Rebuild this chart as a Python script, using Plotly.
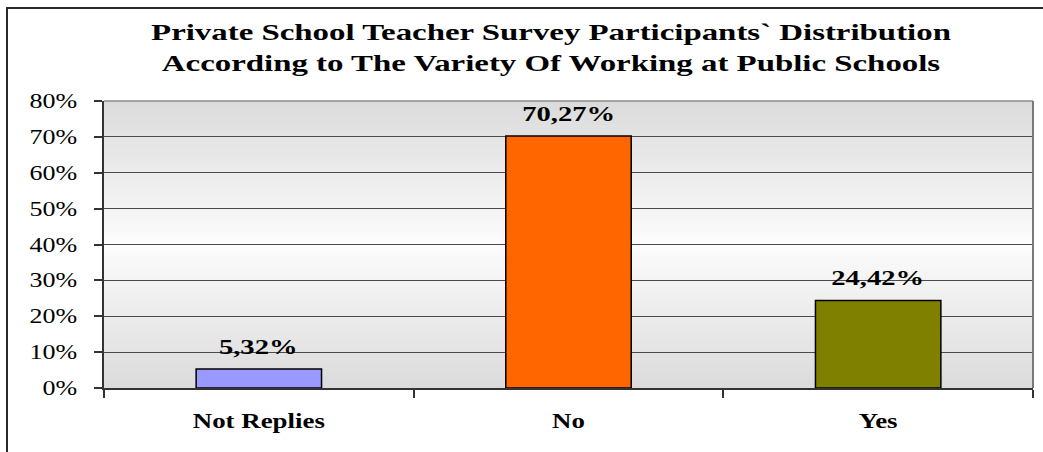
import plotly.graph_objects as go

# Survey data
categories = ["Not Replies", "No", "Yes"]
shares_pct = [5.32, 70.27, 24.42]
bar_colors = ["#9999ff", "#ff6600", "#808000"]
y_tick_values = [0, 0.1, 0.2, 0.3, 0.4, 0.5, 0.6, 0.7, 0.8]

title_text = ("Private School Teacher Survey Participants` Distribution<br>"
              "According to The Variety Of Working at Public Schools")

SERIF = "Liberation Serif, Times New Roman, serif"

W, H = 1043, 452
M_L, M_R, M_T, M_B = 104, 10, 101, 64

fractions = [v / 100 for v in shares_pct]
labels = [f"{v:.2f}%".replace(".", ",") for v in shares_pct]

fig = go.Figure()

fig.add_trace(go.Bar(
    x=categories,
    y=fractions,
    width=0.405,
    marker=dict(color=bar_colors, line=dict(color="#000000", width=1.5)),
    hoverinfo="skip",
))

# Value labels above each bar
for cat, frac, lab in zip(categories, fractions, labels):
    fig.add_annotation(
        x=cat, y=frac, text=f"<b>{lab}</b>", showarrow=False,
        yanchor="bottom", yshift=8,
        font=dict(family=SERIF, size=22, color="#000000"),
    )


def mix(c1, c2, t):
    return "#%02x%02x%02x" % tuple(round(a + (b - a) * t) for a, b in zip(c1, c2))


# Vertical grey -> near white -> grey gradient behind the plot area
edge = (0xdb, 0xdb, 0xdb)
centre = (0xfc, 0xfc, 0xfc)
n_bands = 120
peak = 0.5
for i in range(n_bands):
    y0 = i / n_bands
    y1 = (i + 1) / n_bands
    ym = (y0 + y1) / 2
    t = ym / peak if ym <= peak else (1 - ym) / (1 - peak)
    fig.add_shape(
        type="rect", xref="x domain", yref="y domain",
        x0=0, x1=1, y0=y0, y1=min(1, y1 + 0.004),
        fillcolor=mix(edge, centre, t), line=dict(width=0), layer="below",
    )

# Top and right border of the plot area
fig.add_shape(type="line", xref="x domain", yref="y domain",
              x0=0, x1=1, y0=1, y1=1, line=dict(color="#8c8c8c", width=1.5))
fig.add_shape(type="line", xref="x domain", yref="y domain",
              x0=1, x1=1, y0=0, y1=1, line=dict(color="#7a7a7a", width=2))

# Outer frame of the figure
pw = W - M_L - M_R
ph = H - M_T - M_B
fig.add_shape(
    type="rect", xref="paper", yref="paper",
    x0=(7 - M_L) / pw, x1=(W + 10 - M_L) / pw,
    y0=-(H + 10 - (H - M_B)) / ph, y1=(H - M_B - 8) / ph,
    line=dict(color="#2a2a2a", width=2), fillcolor="rgba(0,0,0,0)",
)

fig.update_layout(
    width=W, height=H,
    margin=dict(l=M_L, r=M_R, t=M_T, b=M_B),
    paper_bgcolor="#ffffff",
    plot_bgcolor="rgba(0,0,0,0)",
    showlegend=False,
    bargap=0.595,
    title=dict(
        text=f"<b>{title_text}</b>",
        x=551 / W, xanchor="center", y=1 - 40 / H, yanchor="middle",
        font=dict(family=SERIF, size=24, color="#000000"),
    ),
    xaxis=dict(
        type="category",
        tickson="boundaries",
        ticks="outside", ticklen=8, tickwidth=1.5, tickcolor="#333333",
        showline=True, linecolor="#333333", linewidth=2,
        showgrid=False,
        tickfont=dict(family=SERIF, size=21, color="#000000"),
        tickvals=categories,
        ticktext=[f"<b>{c}</b>" for c in categories],
        ticklabelstandoff=13,
    ),
    yaxis=dict(
        range=[0, 0.8],
        tickvals=y_tick_values,
        tickformat=".0%",
        ticks="outside", ticklen=8, tickwidth=1.5, tickcolor="#333333",
        showline=True, linecolor="#333333", linewidth=1.5,
        showgrid=True, gridcolor="#4a4a4a", gridwidth=1.2,
        zeroline=False,
        tickfont=dict(family=SERIF, size=20, color="#000000"),
        ticklabelstandoff=13,
    ),
)

# Broad (horizontally stretched) lettering, scaled about each label's anchor
stretch_js = """
var gd = document.getElementById('{plot_id}');
function stretch(sel, s, anchor) {
  gd.querySelectorAll(sel).forEach(function (el) {
    var b = el.getBBox();
    var px = anchor === 'end' ? b.x + b.width : b.x + b.width / 2;
    var old = el.getAttribute('transform') || '';
    el.setAttribute('transform', old + ' translate(' + px + ',0) scale(' + s + ',1) translate(' + (-px) + ',0)');
  });
}
stretch('.gtitle', 1.37, 'middle');
stretch('.xtick text', 1.28, 'middle');
stretch('.ytick text', 1.3, 'end');
stretch('.annotation-text', 1.3, 'middle');
"""

fig.write_html("out.html", post_script=stretch_js)
